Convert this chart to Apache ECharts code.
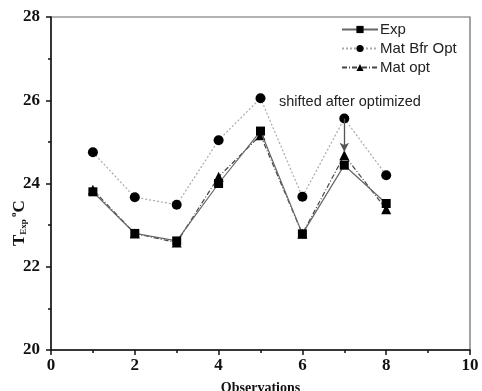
<!DOCTYPE html>
<html><head><meta charset="utf-8">
<script src="https://cdn.jsdelivr.net/npm/echarts@6/dist/echarts.min.js"></script>
<style>html,body{margin:0;padding:0;background:#fff}#c{width:482px;height:391px}</style>
</head><body><div id="c"></div>
<script>
const obs = [1, 2, 3, 4, 5, 6, 7, 8];
const expVals = [23.80, 22.80, 22.62, 24.00, 25.26, 22.79, 24.44, 23.52];
const matBfrOpt = [24.75, 23.67, 23.49, 25.04, 26.05, 23.68, 25.56, 24.20];
const matOpt = [23.85, 22.80, 22.58, 24.16, 25.16, 22.79, 24.68, 23.38];
const xTicks = [0, 2, 4, 6, 8, 10];
const yTicks = [20, 22, 24, 26, 28];
const arrowFrom = [7, 25.56];
const arrowTo = [7, 24.76];

const pair = (xs, ys) => xs.map((x, i) => [x, ys[i]]);
const chart = echarts.init(document.getElementById('c'), null, {renderer: 'canvas'});
const serif = 'Liberation Serif';
chart.setOption({
  animation: false,
  grid: {left: 51, right: 12, top: 17, bottom: 41, show: true, borderColor: '#666', borderWidth: 1.2,
    containLabel: false, outerBoundsMode: 'none'},
  xAxis: {
    type: 'value', min: xTicks[0], max: xTicks[xTicks.length - 1], interval: 2,
    axisLine: {lineStyle: {color: '#111', width: 1.5}},
    axisTick: {length: 5, lineStyle: {color: '#111', width: 1.5}},
    minorTick: {show: true, splitNumber: 2, length: 3, lineStyle: {color: '#111', width: 1.5}},
    splitLine: {show: false},
    axisLabel: {fontFamily: serif, fontWeight: 'bold', fontSize: 17, color: '#111', margin: 7},
    name: 'Observations', nameLocation: 'middle', nameGap: 31,
    nameTextStyle: {fontFamily: serif, fontWeight: 'bold', fontSize: 14, color: '#111'}
  },
  yAxis: {
    type: 'value', min: yTicks[0], max: yTicks[yTicks.length - 1], interval: 2,
    axisLine: {lineStyle: {color: '#111', width: 1.5}},
    axisTick: {length: 5, lineStyle: {color: '#111', width: 1.5}},
    minorTick: {show: true, splitNumber: 2, length: 3, lineStyle: {color: '#111', width: 1.5}},
    splitLine: {show: false},
    axisLabel: {fontFamily: serif, fontWeight: 'bold', fontSize: 17, color: '#111', margin: 11}
  },
  legend: {
    orient: 'vertical', left: 336, top: 17, itemWidth: 36, itemHeight: 9, itemGap: 4,
    textStyle: {fontFamily: 'Liberation Sans', fontSize: 15, color: '#222', padding: [0, 0, 0, -3]},
    data: ['Exp', 'Mat Bfr Opt', 'Mat opt']
  },
  graphic: [
    {type: 'text', left: 279, top: 94, style: {text: 'shifted after optimized', font: '14.5px "Liberation Sans"', fill: '#222'}},
    {type: 'text', x: 9, y: 246, rotation: Math.PI / 2,
      style: {text: '{a|T}{b|Exp}{c| o}{a|C}', rich: {
        a: {font: 'bold 17px "Liberation Serif"', fill: '#111', verticalAlign: 'bottom'},
        b: {font: 'bold 9px "Liberation Serif"', fill: '#111', padding: [10, 0, 0, 0]},
        c: {font: 'bold 9px "Liberation Serif"', fill: '#111', padding: [0, 0, 10, 0]}
      }}}
  ],
  series: [
    {name: 'Exp', type: 'line', data: pair(obs, expVals), symbol: 'rect', symbolSize: 9,
      itemStyle: {color: '#000'}, lineStyle: {color: '#666', width: 1.2, type: 'solid'}, z: 3},
    {name: 'Mat Bfr Opt', type: 'line', data: pair(obs, matBfrOpt), symbol: 'circle', symbolSize: 10,
      itemStyle: {color: '#000'}, lineStyle: {color: '#aaa', width: 1.2, type: [2, 2]}, z: 2,
      markLine: {silent: true, symbol: ['none', 'arrow'], symbolSize: [7, 9],
        lineStyle: {color: '#555', width: 1.3, type: 'solid'}, label: {show: false},
        data: [[{coord: arrowFrom}, {coord: arrowTo}]]}},
    {name: 'Mat opt', type: 'line', data: pair(obs, matOpt), symbol: 'triangle', symbolSize: 10,
      itemStyle: {color: '#000'}, lineStyle: {color: '#444', width: 1.2, type: [5, 2, 1, 2]}, z: 2}
  ]
});
</script></body></html>
